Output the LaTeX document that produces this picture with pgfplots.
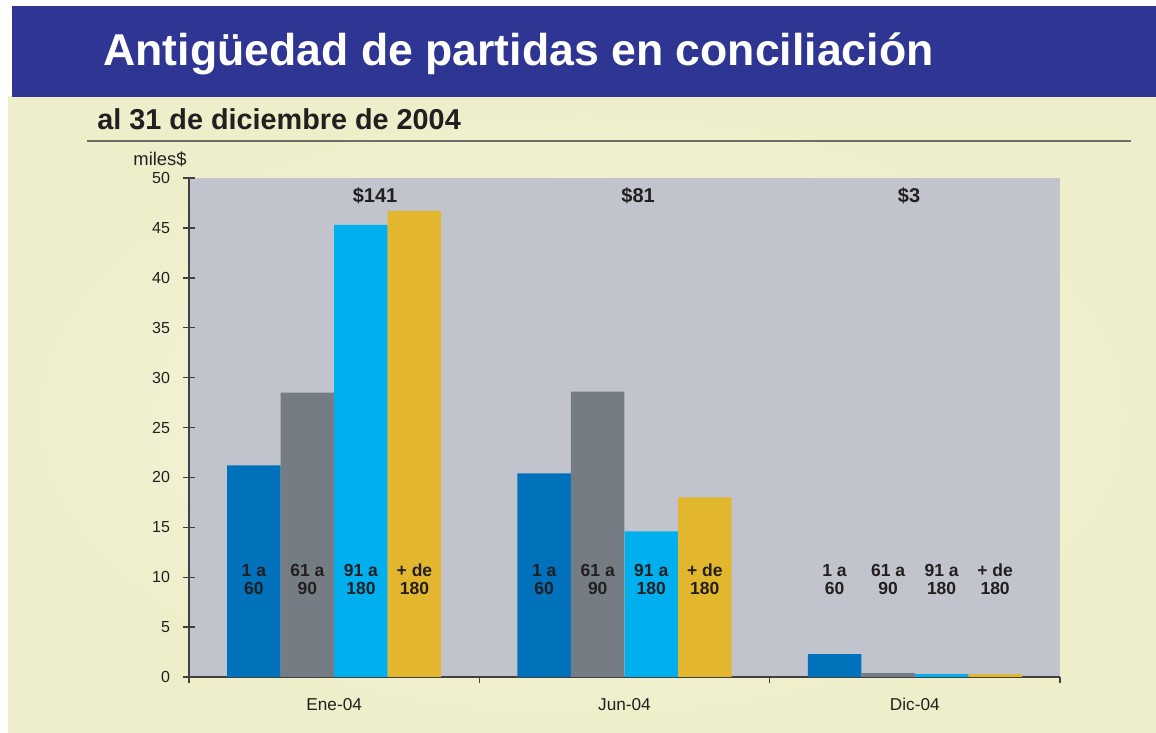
\documentclass[border=0pt]{standalone}
\usepackage{fontspec}
\setmainfont{Liberation Sans}
\usepackage{pgfplots}
\pgfplotsset{compat=1.18}
\definecolor{titleblue}{RGB}{46,53,146}
\definecolor{creamin}{RGB}{248,248,228}
\definecolor{creamout}{RGB}{238,238,202}
\definecolor{plotbg}{RGB}{193,196,204}
\definecolor{cA}{RGB}{0,114,188}
\definecolor{cB}{RGB}{118,124,132}
\definecolor{cC}{RGB}{0,176,238}
\definecolor{cD}{RGB}{227,183,45}
\definecolor{txt}{RGB}{35,31,32}
\definecolor{rulegray}{RGB}{110,110,100}
\begin{document}
\begin{tikzpicture}[x=1pt,y=1pt]
\path[use as bounding box] (0,0) rectangle (578,366.5);
\fill[white] (0,0) rectangle (578,366.5);
\shade[inner color=creamin, outer color=creamout] (4,0) rectangle (578,318);
\fill[titleblue] (6,318) rectangle (578,363.5);
\node[anchor=base west, text=white, font=\bfseries\fontsize{22.3}{26}\selectfont, inner sep=0pt] at (51.5,333.5) {Antigüedad de partidas en conciliación};
\node[anchor=base west, text=txt, font=\bfseries\fontsize{14.4}{17}\selectfont, inner sep=0pt] at (48.5,301.5) {al 31 de diciembre de 2004};
\draw[rulegray, line width=1pt] (43.5,296) -- (565.5,296);
\node[anchor=base east, text=txt, font=\fontsize{9.2}{11}\selectfont, inner sep=0pt] at (93.5,283.5) {miles\$};
\begin{axis}[
  at={(94.5pt,28pt)}, anchor=south west,
  scale only axis, width=435.5pt, height=249.5pt,
  xmin=-0.5, xmax=2.5, ymin=0, ymax=50,
  ytick={0,5,...,50},
  xtick={0,1,2}, xticklabels={Ene-04,Jun-04,Dic-04},
  major x tick style={draw=none},
  minor xtick={-0.5,0.5,1.5,2.5},
  axis x line*=bottom, axis y line*=left,
  axis line style={-, draw=black!75, line width=0.7pt},
  axis background/.style={fill=plotbg},
  tick align=outside,
  major tick length=6pt, minor tick length=3pt,
  tick style={draw=black!75, line width=0.7pt},
  ytick style={xshift=3pt},
  /pgf/number format/assume math mode=true,
  ticklabel style={text=txt, font=\fontsize{8.6}{10}\selectfont},
  yticklabel style={font=\fontsize{8}{10}\selectfont},
  xticklabel style={yshift=-1pt},
  ybar, bar width=0.1843,
  clip=false,
]
\addplot[fill=cA, draw=none, bar shift=-0.2765] coordinates {(0,21.2) (1,20.4) (2,2.3)};
\addplot[fill=cB, draw=none, bar shift=-0.0922] coordinates {(0,28.5) (1,28.6) (2,0.4)};
\addplot[fill=cC, draw=none, bar shift=0.0922] coordinates {(0,45.3) (1,14.6) (2,0.3)};
\addplot[fill=cD, draw=none, bar shift=0.2765] coordinates {(0,46.7) (1,18.0) (2,0.3)};
\foreach \c in {0,1,2} {
  \edef\temp{\noexpand\node[text=txt, align=center, font=\noexpand\bfseries\noexpand\fontsize{8.75}{9}\noexpand\selectfont, inner sep=0pt] at (axis cs:\c-0.2765,9.8) {1 a\\60};
  \noexpand\node[text=txt, align=center, font=\noexpand\bfseries\noexpand\fontsize{8.75}{9}\noexpand\selectfont, inner sep=0pt] at (axis cs:\c-0.0922,9.8) {61 a\\90};
  \noexpand\node[text=txt, align=center, font=\noexpand\bfseries\noexpand\fontsize{8.75}{9}\noexpand\selectfont, inner sep=0pt] at (axis cs:\c+0.0922,9.8) {91 a\\180};
  \noexpand\node[text=txt, align=center, font=\noexpand\bfseries\noexpand\fontsize{8.75}{9}\noexpand\selectfont, inner sep=0pt] at (axis cs:\c+0.2765,9.8) {+ de\\180};}
  \temp
}
\node[text=txt, font=\bfseries\fontsize{10}{12}\selectfont] at (axis cs:0.141,48.2) {\$141};
\node[text=txt, font=\bfseries\fontsize{10}{12}\selectfont] at (axis cs:1.047,48.2) {\$81};
\node[text=txt, font=\bfseries\fontsize{10}{12}\selectfont] at (axis cs:1.98,48.2) {\$3};
\end{axis}
\end{tikzpicture}
\end{document}
